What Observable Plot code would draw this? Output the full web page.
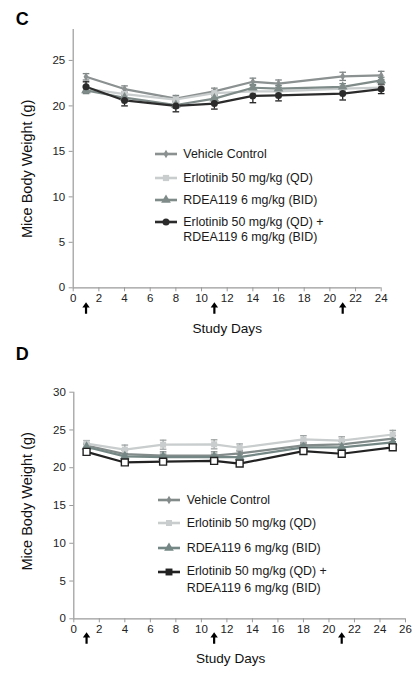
<!DOCTYPE html>
<html>
<head>
<meta charset="utf-8">
<script src="https://cdn.jsdelivr.net/npm/d3@7"></script>
<script src="https://cdn.jsdelivr.net/npm/@observablehq/plot@0.6"></script>
<style>
  body { margin: 0; background: #fff; font-family: "Liberation Sans", Arial, sans-serif; }
  #wrap { position: relative; width: 420px; height: 675px; overflow: hidden; background: #fff; }
  .panel { position: absolute; left: 0; }
  .panel svg { display: block; }
  svg [aria-label="x-axis tick"], svg [aria-label="y-axis tick"] { stroke: #9a9a9a; }
  .lg-text { position: absolute; white-space: nowrap; color: #1a1a1a; font-size: 12.4px; }
  .lg-sw { position: absolute; }
</style>
</head>
<body>
<div id="wrap"></div>
<script>
// ---------------- DATA ----------------
const seriesNames = [
  "Vehicle Control",
  "Erlotinib 50 mg/kg (QD)",
  "RDEA119 6 mg/kg (BID)",
  "Erlotinib 50 mg/kg (QD) + RDEA119 6 mg/kg (BID)"
];
const legendLabelLines = [
  ["Vehicle Control"],
  ["Erlotinib 50 mg/kg (QD)"],
  ["RDEA119 6 mg/kg (BID)"],
  ["Erlotinib 50 mg/kg (QD) +", "RDEA119 6 mg/kg (BID)"]
];
const doseDays = [1, 11, 21];

// Panel C
const daysC = [1, 4, 8, 11, 14, 16, 21, 24];
const vehicleC   = [23.2, 21.85, 20.8, 21.6, 22.65, 22.45, 23.25, 23.35];
const erlotinibC = [21.9, 21.3, 20.7, 21.4, 21.6, 21.6, 21.9, 22.0];
const rdeaC      = [21.7, 20.9, 20.1, 20.8, 22.0, 21.9, 22.1, 22.8];
const comboC     = [22.1, 20.6, 20.0, 20.25, 21.1, 21.15, 21.35, 21.85];
const errVehicleC   = [0.35, 0.35, 0.35, 0.35, 0.4, 0.4, 0.45, 0.45];
const errErlotinibC = [0.3, 0.3, 0.3, 0.3, 0.3, 0.3, 0.3, 0.3];
const errRdeaC      = [0.35, 0.35, 0.35, 0.35, 0.35, 0.35, 0.35, 0.35];
const errComboC     = [0.55, 0.6, 0.65, 0.6, 0.75, 0.6, 0.7, 0.5];
const xTicksC = [0, 2, 4, 6, 8, 10, 12, 14, 16, 18, 20, 22, 24];
const yTicksC = [0, 5, 10, 15, 20, 25];

// Panel D
const daysD = [1, 4, 7, 11, 13, 18, 21, 25];
const vehicleD   = [22.95, 21.8, 21.6, 21.6, 21.9, 22.95, 23.1, 23.85];
const erlotinibD = [23.2, 22.4, 23.05, 23.1, 22.65, 23.75, 23.6, 24.4];
const rdeaD      = [22.75, 21.5, 21.4, 21.4, 21.4, 22.7, 22.7, 23.35];
const comboD     = [22.1, 20.7, 20.8, 20.9, 20.55, 22.2, 21.85, 22.7];
const errVehicleD   = [0.3, 0.5, 0.5, 0.5, 0.4, 0.4, 0.4, 0.4];
const errErlotinibD = [0.4, 0.6, 0.6, 0.6, 0.5, 0.5, 0.5, 0.55];
const errRdeaD      = [0.3, 0.4, 0.4, 0.4, 0.4, 0.4, 0.4, 0.4];
const errComboD     = [0.3, 0.3, 0.3, 0.3, 0.3, 0.3, 0.3, 0.3];
const xTicksD = [0, 2, 4, 6, 8, 10, 12, 14, 16, 18, 20, 22, 24, 26];
const yTicksD = [0, 5, 10, 15, 20, 25, 30];

// ---------------- STYLE ----------------
const capSymbol = { draw(ctx, size) { const w = Math.sqrt(size / Math.PI); ctx.moveTo(-w, 0); ctx.lineTo(w, 0); } };
const arrowSymbol = { draw(ctx) {
  const h = 5.7;
  ctx.moveTo(0, -h); ctx.lineTo(3.7, -0.4); ctx.lineTo(1.1, -0.4); ctx.lineTo(1.1, h);
  ctx.lineTo(-1.1, h); ctx.lineTo(-1.1, -0.4); ctx.lineTo(-3.7, -0.4); ctx.closePath();
} };
const d3Sym = { diamond: d3.symbolDiamond, square: d3.symbolSquare, triangle: d3.symbolTriangle, circle: d3.symbolCircle };

const stylesC = [
  { color: "#8b9090", err: "#7f8585", symbol: "diamond", r: 2.6, fill: "#8b9090", stroke: "none" },
  { color: "#c9cdcd", err: "#b9bebe", symbol: "square", r: 3.5, fill: "#c9cdcd", stroke: "none" },
  { color: "#7e8b88", err: "#768280", symbol: "triangle", r: 3.6, fill: "#7e8b88", stroke: "none" },
  { color: "#2b2b2b", err: "#1f1f1f", symbol: "circle", r: 3.5, fill: "#2b2b2b", stroke: "none" }
];
const stylesD = [
  { color: "#838b8a", err: "#7a8281", symbol: "diamond", r: 2.6, fill: "#838b8a", stroke: "none" },
  { color: "#c9cdcd", err: "#9ea3a3", symbol: "square", r: 3.4, fill: "#c9cdcd", stroke: "none" },
  { color: "#748784", err: "#6e7f7c", symbol: "triangle", r: 3.6, fill: "#748784", stroke: "none" },
  { color: "#222222", err: "#222222", symbol: "square", r: 3.9, fill: "#ffffff", stroke: "#222222", legendFill: "#222222" }
];

function drawPanel(cfg) {
  const series = cfg.values.map((vals, i) => cfg.days.map((day, j) => ({ day, w: vals[j], e: cfg.errs[i][j] })));
  const marks = [
    Plot.ruleY([0], { stroke: "#9a9a9a", strokeWidth: 1.2 }),
    Plot.ruleX([0], { stroke: "#9a9a9a", strokeWidth: 1.2 }),
    Plot.axisX({ ticks: cfg.xTicks, tickSize: 4, tickPadding: 2, label: null, tickFormat: d => d, fill: "#222" }),
    Plot.axisY({ ticks: cfg.yTicks, tickSize: 4, tickPadding: 4, label: null, tickFormat: d => d, fill: "#222" })
  ];
  series.forEach((rows, i) => {
    const st = cfg.styles[i];
    marks.push(Plot.ruleX(rows, { x: "day", y1: d => d.w - d.e, y2: d => d.w + d.e, stroke: st.err, strokeWidth: 1.3 }));
    const caps = rows.flatMap(d => [{ day: d.day, y: d.w - d.e }, { day: d.day, y: d.w + d.e }]);
    marks.push(Plot.dot(caps, { x: "day", y: "y", symbol: capSymbol, r: 3.3, stroke: st.err, strokeWidth: 1.3, fill: "none" }));
  });
  series.forEach((rows, i) => {
    const st = cfg.styles[i];
    marks.push(Plot.line(rows, { x: "day", y: "w", stroke: st.color, strokeWidth: 2.2 }));
  });
  series.forEach((rows, i) => {
    const st = cfg.styles[i];
    marks.push(Plot.dot(rows, { x: "day", y: "w", symbol: st.symbol, r: st.r, fill: st.fill, stroke: st.stroke, strokeWidth: 1.4 }));
  });
  // dosing arrows
  marks.push(Plot.dot(doseDays, { x: d => d, frameAnchor: "bottom", dy: cfg.arrowDy, symbol: arrowSymbol, r: 4, fill: "#000", stroke: "none" }));
  // labels
  marks.push(Plot.text([cfg.letter], { text: d => d, frameAnchor: "top-left", dx: cfg.letterPos[0], dy: cfg.letterPos[1], textAnchor: "middle", lineAnchor: "middle", fontSize: 18, fontWeight: "bold", fill: "#000" }));
  marks.push(Plot.text(["Mice Body Weight (g)"], { text: d => d, frameAnchor: "left", rotate: -90, dx: cfg.yLabelPos[0], dy: cfg.yLabelPos[1], textAnchor: "middle", lineAnchor: "middle", fontSize: 14.5, fill: "#111" }));
  marks.push(Plot.text(["Study Days"], { text: d => d, frameAnchor: "bottom", dx: cfg.xLabelPos[0], dy: cfg.xLabelPos[1], textAnchor: "middle", lineAnchor: "middle", fontSize: 13.6, fill: "#111" }));

  const svg = Plot.plot({
    width: 420,
    height: cfg.height,
    marginLeft: cfg.margins[0], marginRight: cfg.margins[1], marginTop: cfg.margins[2], marginBottom: cfg.margins[3],
    x: { domain: [0, cfg.xMax], label: null },
    y: { domain: [0, cfg.yMax], label: null },
    style: { fontFamily: "'Liberation Sans', Arial, sans-serif", fontSize: "11.5px", color: "#222", background: "transparent", overflow: "visible" },
    marks
  });
  const div = document.createElement("div");
  div.className = "panel";
  div.style.top = cfg.top + "px";
  div.appendChild(svg);
  document.getElementById("wrap").appendChild(div);

  // legend (inside plot area)
  const lg = cfg.legend;
  legendLabelLines.forEach((lines, i) => {
    const st = cfg.styles[i];
    const cy = cfg.top + lg.rows[i];
    const sw = d3.create("svg").attr("class", "lg-sw").attr("width", lg.swW).attr("height", 12)
      .style("left", lg.swX + "px").style("top", (cy - 6) + "px");
    sw.append("line").attr("x1", 0).attr("x2", lg.swW).attr("y1", 6).attr("y2", 6)
      .attr("stroke", st.color).attr("stroke-width", 2.6);
    sw.append("path").attr("d", d3.symbol(d3Sym[st.symbol], Math.PI * st.r * st.r)())
      .attr("transform", `translate(${lg.swW / 2},6)`)
      .attr("fill", st.legendFill || st.fill);
    document.getElementById("wrap").appendChild(sw.node());
    const t = document.createElement("div");
    t.className = "lg-text";
    t.style.left = lg.textX + "px";
    t.style.lineHeight = lg.lh + "px";
    t.style.top = (cy - lg.lh / 2) + "px";
    t.innerHTML = lines.join("<br>");
    document.getElementById("wrap").appendChild(t);
  });
}

drawPanel({
  top: 0, height: 340, letter: "C",
  margins: [72.7, 39.3, 29, 52.7],
  xMax: 24, yMax: 28.4, xTicks: xTicksC, yTicks: yTicksC,
  days: daysC,
  values: [vehicleC, erlotinibC, rdeaC, comboC],
  errs: [errVehicleC, errErlotinibC, errRdeaC, errComboC],
  styles: stylesC,
  arrowDy: 20.2,
  letterPos: [21.7 - 72.7, 18.3 - 29],
  yLabelPos: [27 - 72.7, 168.3 - 158.15],
  xLabelPos: [0, 40.7],
  legend: { swX: 155, swW: 22, textX: 183.3, lh: 15, rows: [154.3, 178.3, 200, 222.3] }
});

drawPanel({
  top: 340, height: 335, letter: "D",
  margins: [73.3, 15, 51.7, 56.7],
  xMax: 26, yMax: 30, xTicks: xTicksD, yTicks: yTicksD,
  days: daysD,
  values: [vehicleD, erlotinibD, rdeaD, comboD],
  errs: [errVehicleD, errErlotinibD, errRdeaD, errComboD],
  styles: stylesD,
  arrowDy: 19.2,
  letterPos: [21.7 - 73.3, 13.3 - 51.7],
  yLabelPos: [27 - 73.3, 160.8 - 165],
  xLabelPos: [-9, 40],
  legend: { swX: 158.3, swW: 22, textX: 186.7, lh: 16.6, rows: [160, 183.3, 208.3, 231.7] }
});
</script>
</body>
</html>
